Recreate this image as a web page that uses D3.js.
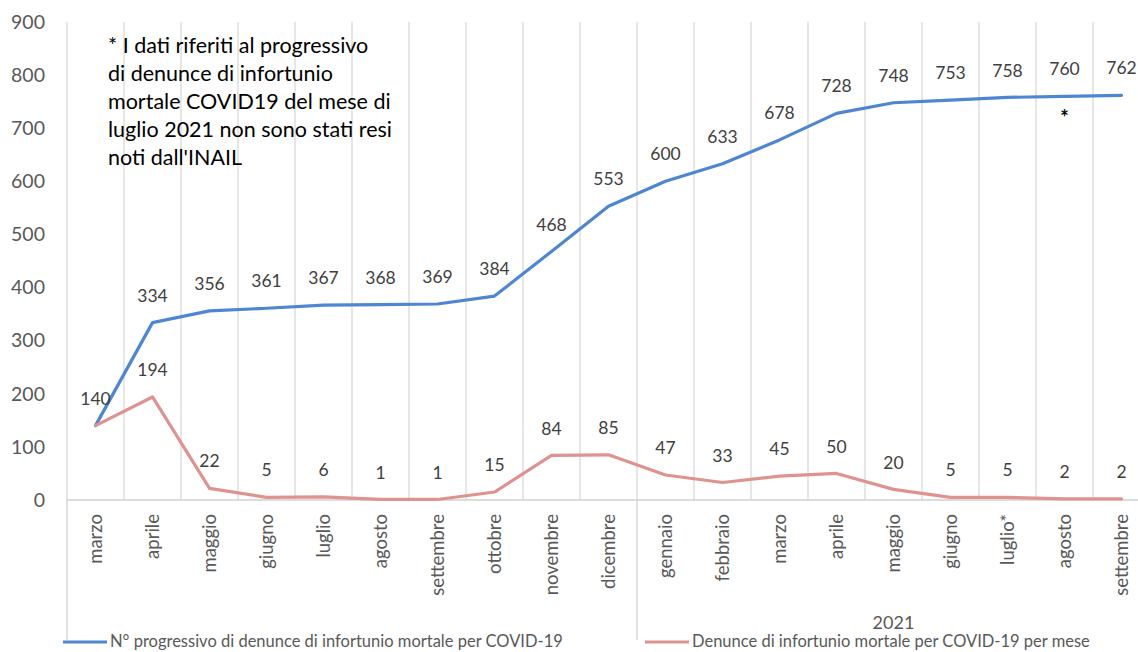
<!DOCTYPE html>
<html>
<head>
<meta charset="utf-8">
<script src="https://cdn.jsdelivr.net/npm/d3@7"></script>
<style>
  body { margin: 0; background: #fff; }
  svg { font-family: Lato, "Open Sans", sans-serif; }
</style>
</head>
<body>
<div id="chart"></div>
<script>
const months = ["marzo", "aprile", "maggio", "giugno", "luglio", "agosto", "settembre", "ottobre", "novembre", "dicembre",
  "gennaio", "febbraio", "marzo", "aprile", "maggio", "giugno", "luglio*", "agosto", "settembre"];
const years = ["", "2021"];
const yearOfMonth = [0, 0, 0, 0, 0, 0, 0, 0, 0, 0, 1, 1, 1, 1, 1, 1, 1, 1, 1];
const progressivo = [140, 334, 356, 361, 367, 368, 369, 384, 468, 553, 600, 633, 678, 728, 748, 753, 758, 760, 762];
const mensili = [140, 194, 22, 5, 6, 1, 1, 15, 84, 85, 47, 33, 45, 50, 20, 5, 5, 2, 2];
const yTicks = [0, 100, 200, 300, 400, 500, 600, 700, 800, 900];
const seriesNames = ["N° progressivo di denunce di infortunio mortale per COVID-19", "Denunce di infortunio mortale per COVID-19 per mese"];
const note = ["* I dati riferiti al progressivo", "di denunce di infortunio", "mortale COVID19 del mese di", "luglio 2021 non sono stati resi", "noti dall'INAIL"];

const width = 1138, height = 652;
const margins = { left: 67, right: -12, top: 22, bottom: 152 };
const colors = ["#4f86d2", "#de9391"];

const svg = d3.select("#chart").append("svg")
  .attr("width", width).attr("height", height);

const idx = d3.range(months.length);
const x = d3.scaleBand().domain(idx).range([margins.left, width - margins.right]).padding(0);
const cx = i => x(i) + x.bandwidth() / 2;
const y = d3.scaleLinear().domain([0, 900]).range([height - margins.bottom, margins.top]);
const y0 = y(0);

// vertical gridlines at category boundaries
svg.append("g").selectAll("line")
  .data(d3.range(months.length + 1))
  .join("line")
  .attr("x1", i => margins.left + i * x.step()).attr("x2", i => margins.left + i * x.step())
  .attr("y1", y(900)).attr("y2", y0)
  .attr("stroke", "#d9d9d9").attr("stroke-width", 1.3);

// x axis line
svg.append("line").attr("x1", margins.left).attr("x2", width).attr("y1", y0).attr("y2", y0)
  .attr("stroke", "#d0d0d0").attr("stroke-width", 1.5);

// y tick labels
svg.append("g").selectAll("text")
  .data(yTicks).join("text")
  .attr("x", 45).attr("y", d => y(d)).attr("dy", "0.35em")
  .attr("text-anchor", "end").attr("font-size", 19.5).attr("fill", "#595959")
  .text(d => d);

// month labels
svg.append("g").selectAll("text")
  .data(idx).join("text")
  .attr("transform", i => `translate(${cx(i)},${y0 + 14}) rotate(-90)`)
  .attr("text-anchor", "end").attr("dy", "0.35em")
  .attr("font-size", 18.5).attr("fill", "#595959")
  .text(i => months[i]);

// year group separators and labels
const groupStart = years.map((g, k) => yearOfMonth.indexOf(k));
svg.append("g").selectAll("line")
  .data(groupStart).join("line")
  .attr("x1", i => x(i)).attr("x2", i => x(i))
  .attr("y1", y0).attr("y2", 640)
  .attr("stroke", "#d0d0d0").attr("stroke-width", 1.3);
svg.append("g").selectAll("text")
  .data(years).join("text")
  .attr("x", (g, k) => {
    const members = idx.filter(i => yearOfMonth[i] === k);
    return (x(members[0]) + x(members[members.length - 1]) + x.bandwidth()) / 2;
  })
  .attr("y", 629).attr("text-anchor", "middle")
  .attr("font-size", 18).attr("fill", "#595959")
  .text(g => g);

// lines
const line = d3.line().x((d, i) => cx(i)).y(d => y(d));
[progressivo, mensili].forEach((s, k) => {
  svg.append("path").datum(s)
    .attr("d", line).attr("fill", "none")
    .attr("stroke", colors[k]).attr("stroke-width", 3.2)
    .attr("stroke-linejoin", "round").attr("stroke-linecap", "round");
});

// data labels (first month shared point labelled once)
[progressivo, mensili].forEach((s, k) => {
  svg.append("g").selectAll("text")
    .data(idx.filter(i => !(k === 1 && i === 0))).join("text")
    .attr("x", cx).attr("y", i => y(s[i]) - 27).attr("dy", "0.35em")
    .attr("text-anchor", "middle").attr("font-size", 17.5).attr("fill", "#404040")
    .text(i => s[i]);
});

// asterisk under agosto 2021
svg.append("text")
  .attr("x", cx(17)).attr("y", y(progressivo[17]) + 22).attr("dy", "0.35em")
  .attr("text-anchor", "middle").attr("font-size", 20).attr("font-weight", "bold").attr("fill", "#000")
  .text("*");

// note
svg.append("g").selectAll("text")
  .data(note).join("text")
  .attr("x", 108).attr("y", (d, i) => 45 + i * 28).attr("dy", "0.35em")
  .attr("font-size", 21.5).attr("fill", "#000")
  .text(d => d);

// legend
const legendX = [63, 645];
seriesNames.forEach((name, k) => {
  svg.append("line")
    .attr("x1", legendX[k]).attr("x2", legendX[k] + 44)
    .attr("y1", 642).attr("y2", 642)
    .attr("stroke", colors[k]).attr("stroke-width", 3.2);
  svg.append("text")
    .attr("x", legendX[k] + 47).attr("y", 642).attr("dy", "0.32em")
    .attr("font-size", 16.5).attr("fill", "#595959")
    .text(name);
});
</script>
</body>
</html>
